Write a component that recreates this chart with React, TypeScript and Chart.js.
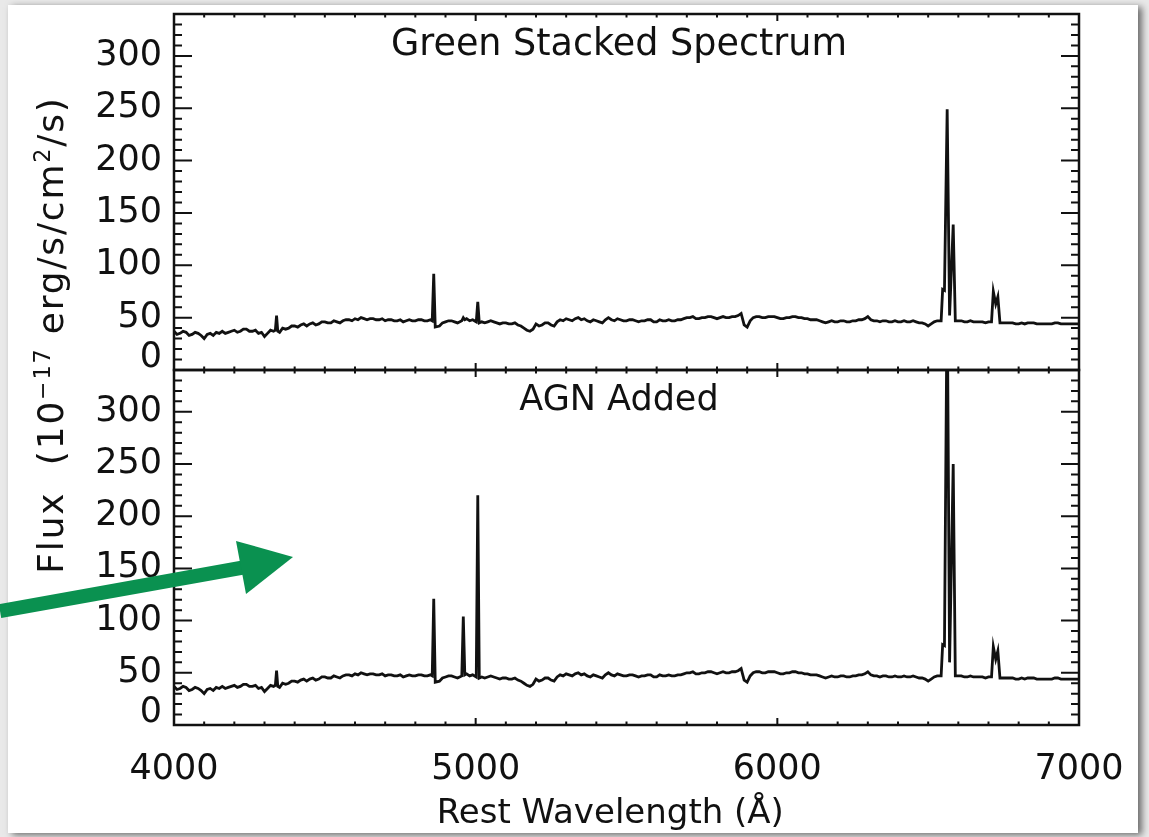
import React, { useEffect, useRef } from 'react';
import { Chart, registerables } from 'chart.js';

Chart.register(...registerables);

// Continuum sampling grid (Å), 10 Å steps
const wavelengthGrid = [
  4000, 4010, 4020, 4030, 4040, 4050, 4060, 4070, 4080, 4090,
  4100, 4110, 4120, 4130, 4140, 4150, 4160, 4170, 4180, 4190,
  4200, 4210, 4220, 4230, 4240, 4250, 4260, 4270, 4280, 4290,
  4300, 4310, 4320, 4330, 4340, 4350, 4360, 4370, 4380, 4390,
  4400, 4410, 4420, 4430, 4440, 4450, 4460, 4470, 4480, 4490,
  4500, 4510, 4520, 4530, 4540, 4550, 4560, 4570, 4580, 4590,
  4600, 4610, 4620, 4630, 4640, 4650, 4660, 4670, 4680, 4690,
  4700, 4710, 4720, 4730, 4740, 4750, 4760, 4770, 4780, 4790,
  4800, 4810, 4820, 4830, 4840, 4850, 4860, 4870, 4880, 4890,
  4900, 4910, 4920, 4930, 4940, 4950, 4960, 4970, 4980, 4990,
  5000, 5010, 5020, 5030, 5040, 5050, 5060, 5070, 5080, 5090,
  5100, 5110, 5120, 5130, 5140, 5150, 5160, 5170, 5180, 5190,
  5200, 5210, 5220, 5230, 5240, 5250, 5260, 5270, 5280, 5290,
  5300, 5310, 5320, 5330, 5340, 5350, 5360, 5370, 5380, 5390,
  5400, 5410, 5420, 5430, 5440, 5450, 5460, 5470, 5480, 5490,
  5500, 5510, 5520, 5530, 5540, 5550, 5560, 5570, 5580, 5590,
  5600, 5610, 5620, 5630, 5640, 5650, 5660, 5670, 5680, 5690,
  5700, 5710, 5720, 5730, 5740, 5750, 5760, 5770, 5780, 5790,
  5800, 5810, 5820, 5830, 5840, 5850, 5860, 5870, 5880, 5890,
  5900, 5910, 5920, 5930, 5940, 5950, 5960, 5970, 5980, 5990,
  6000, 6010, 6020, 6030, 6040, 6050, 6060, 6070, 6080, 6090,
  6100, 6110, 6120, 6130, 6140, 6150, 6160, 6170, 6180, 6190,
  6200, 6210, 6220, 6230, 6240, 6250, 6260, 6270, 6280, 6290,
  6300, 6310, 6320, 6330, 6340, 6350, 6360, 6370, 6380, 6390,
  6400, 6410, 6420, 6430, 6440, 6450, 6460, 6470, 6480, 6490,
  6500, 6510, 6520, 6530, 6540, 6550, 6560, 6570, 6580, 6590,
  6600, 6610, 6620, 6630, 6640, 6650, 6660, 6670, 6680, 6690,
  6700, 6710, 6720, 6730, 6740, 6750, 6760, 6770, 6780, 6790,
  6800, 6810, 6820, 6830, 6840, 6850, 6860, 6870, 6880, 6890,
  6900, 6910, 6920, 6930, 6940, 6950, 6960, 6970, 6980, 6990,
  7000,
];

// Stacked continuum flux (10^-17 erg/s/cm^2/Å) on the grid above
const continuumFlux = [
  37, 34, 35, 37, 36, 33, 34, 36, 35, 33,
  30, 34, 35, 33, 36, 35, 37, 35, 36, 37,
  38, 36, 37, 39, 39, 37, 37, 38, 35, 36,
  32, 35, 38, 37, 38, 36, 40, 39, 40, 42,
  42, 41, 43, 44, 42, 44, 45, 43, 44, 46,
  46, 45, 45, 47, 46, 45, 47, 48, 48, 47,
  49, 48, 50, 49, 48, 49, 49, 48, 48, 49,
  47, 48, 48, 47, 47, 48, 46, 47, 48, 47,
  47, 48, 48, 47, 47, 48, 47, 43, 42, 45,
  46, 47, 47, 46, 45, 47, 50, 49, 47, 48,
  46, 47, 46, 45, 46, 47, 46, 45, 44, 45,
  45, 44, 44, 45, 43, 42, 40, 38, 37, 39,
  44, 42, 43, 45, 45, 43, 42, 46, 48, 47,
  49, 48, 47, 49, 50, 48, 49, 47, 46, 48,
  47, 46, 45, 48, 50, 48, 47, 49, 48, 47,
  47, 48, 48, 47, 46, 47, 47, 48, 48, 46,
  46, 48, 47, 47, 48, 47, 47, 48, 48, 49,
  50, 50, 51, 49, 49, 50, 50, 51, 51, 50,
  49, 50, 51, 50, 50, 51, 51, 52, 54, 43,
  41, 47, 50, 51, 51, 50, 50, 51, 51, 51,
  50, 49, 49, 50, 50, 51, 51, 50, 50, 49,
  49, 48, 48, 48, 47, 46, 45, 46, 47, 46,
  46, 47, 47, 46, 46, 47, 47, 48, 48, 49,
  51, 48, 47, 47, 46, 47, 47, 46, 46, 47,
  46, 46, 47, 46, 46, 47, 46, 45, 45, 44,
  42, 44, 46, 47, 47, 47, 47, 47, 47, 48,
  47, 47, 46, 46, 47, 46, 46, 46, 46, 45,
  46, 46, 45, 45, 45, 45, 45, 45, 45, 44,
  44, 45, 44, 45, 45, 45, 44, 44, 44, 44,
  44, 44, 45, 45, 44, 44, 44, 44, 44, 44,
  44,
];

// Emission-line regions (Hγ, Hβ, [OIII]4959, [OIII]5007, [NII]+Hα, [SII])
const lineWavelengths = [
  4336, 4340, 4344,
  4856, 4861, 4866,
  4954, 4959, 4964,
  5002, 5007, 5012,
  6543, 6548, 6554, 6563, 6571, 6583, 6590,
  6710, 6716, 6724, 6731, 6738,
];
const greenLineFlux = [
  38, 52, 37,
  47, 92, 41,
  47, 50, 48,
  46, 65, 45,
  47, 77, 76, 249, 52, 139, 47,
  46, 75, 63, 70, 45,
];
const agnLineFlux = [
  38, 52, 37,
  47, 121, 41,
  47, 104, 48,
  46, 220, 45,
  47, 77, 76, 420, 60, 250, 47,
  46, 75, 63, 71, 45,
];

const xTickValues = [4000, 5000, 6000, 7000];
const yTickValues = [0, 50, 100, 150, 200, 250, 300];
const X_MIN = 4000;
const X_MAX = 7000;
const Y_MIN = 0;
const Y_MAX = 340;

const FONT = '"DejaVu Sans", "Noto Sans", sans-serif';
const INK = '#111111';

function buildSpectrum(lineFlux: number[]) {
  const pts: { x: number; y: number }[] = [];
  wavelengthGrid.forEach((w, i) => {
    if (lineWavelengths.some((l) => Math.abs(l - w) < 6)) return;
    pts.push({ x: w, y: continuumFlux[i] });
  });
  lineWavelengths.forEach((w, i) => pts.push({ x: w, y: lineFlux[i] }));
  pts.sort((a, b) => a.x - b.x);
  return pts;
}

const idlFrame = {
  id: 'idlFrame',
  afterDraw(chart: any, _args: any, opts: any) {
    const { ctx, chartArea: a } = chart;
    const xs = chart.scales.x;
    const ys = chart.scales.y;
    ctx.save();
    ctx.strokeStyle = INK;
    ctx.lineWidth = 2;
    ctx.beginPath();
    for (let v = Y_MIN + 10; v < Y_MAX; v += 10) {
      const py = ys.getPixelForValue(v);
      const len = v % 50 === 0 ? 18 : 8;
      ctx.moveTo(a.left, py);
      ctx.lineTo(a.left + len, py);
      ctx.moveTo(a.right, py);
      ctx.lineTo(a.right - len, py);
    }
    for (let v = X_MIN + 100; v < X_MAX; v += 100) {
      const px = xs.getPixelForValue(v);
      const len = v % 1000 === 0 ? 7 : 3.5;
      ctx.moveTo(px, a.top);
      ctx.lineTo(px, a.top + len);
      ctx.moveTo(px, a.bottom);
      ctx.lineTo(px, a.bottom - len);
    }
    ctx.stroke();
    ctx.lineWidth = 2.5;
    ctx.strokeRect(a.left, a.top, a.right - a.left, a.bottom - a.top);
    ctx.fillStyle = INK;
    ctx.font = `${opts.titleSize}px ${FONT}`;
    ctx.textAlign = 'center';
    ctx.textBaseline = 'middle';
    ctx.fillText(opts.title, xs.getPixelForValue(opts.titleX), ys.getPixelForValue(opts.titleY));
    ctx.restore();
  },
};

function yScale() {
  return {
    type: 'linear',
    min: Y_MIN,
    max: Y_MAX,
    afterBuildTicks: (s: any) => {
      s.ticks = yTickValues.map((v) => ({ value: v }));
    },
    afterFit: (s: any) => {
      s.width = 100;
    },
    ticks: {
      padding: 12,
      color: INK,
      font: { family: FONT, size: 35, lineHeight: 0.7 },
      callback: (v: number) => (v === 0 ? ['0', ''] : String(v)),
    },
    grid: { display: false, drawTicks: false },
    border: { display: false },
  };
}

function makeConfig(data: any[], title: string, titleSize: number, showX: boolean): any {
  return {
    type: 'line',
    data: {
      datasets: [
        {
          data,
          borderColor: INK,
          borderWidth: 2.8,
          borderJoinStyle: 'miter',
          pointRadius: 0,
          tension: 0,
          fill: false,
          clip: 1,
        },
      ],
    },
    options: {
      responsive: false,
      animation: false,
      events: [],
      layout: { padding: { left: 74, right: 70, top: 40, bottom: showX ? 0 : 40 } },
      plugins: {
        legend: { display: false },
        tooltip: { enabled: false },
        idlFrame: { title, titleSize, titleX: 5475, titleY: 310 },
      },
      scales: {
        x: showX
          ? {
              type: 'linear',
              min: X_MIN,
              max: X_MAX,
              afterBuildTicks: (s: any) => {
                s.ticks = xTickValues.map((v) => ({ value: v }));
              },
              afterFit: (s: any) => {
                s.height = 110;
              },
              ticks: {
                padding: 24,
                color: INK,
                maxRotation: 0,
                autoSkip: false,
                font: { family: FONT, size: 35, lineHeight: 1.2 },
                callback: (v: number) => String(v),
              },
              grid: { display: false, drawTicks: false },
              border: { display: false },
              title: {
                display: true,
                text: 'Rest Wavelength (Å)   ',
                color: INK,
                font: { family: FONT, size: 34, lineHeight: 1.2 },
                padding: { top: 0, bottom: 0 },
              },
            }
          : {
              type: 'linear',
              display: false,
              min: X_MIN,
              max: X_MAX,
              grid: { display: false, drawTicks: false },
            },
        y: yScale(),
      },
    },
    plugins: [idlFrame],
  };
}

export default function App() {
  const topRef = useRef<HTMLCanvasElement>(null);
  const botRef = useRef<HTMLCanvasElement>(null);

  useEffect(() => {
    const top = new Chart(
      topRef.current as HTMLCanvasElement,
      makeConfig(buildSpectrum(greenLineFlux), 'Green Stacked Spectrum', 36.5, false)
    );
    const bot = new Chart(
      botRef.current as HTMLCanvasElement,
      makeConfig(buildSpectrum(agnLineFlux), 'AGN Added', 35, true)
    );
    return () => {
      top.destroy();
      bot.destroy();
    };
  }, []);

  return (
    <div
      style={{
        position: 'fixed',
        left: 0,
        top: 0,
        width: 1149,
        height: 837,
        background: '#e9e9e9',
        overflow: 'hidden',
      }}
    >
      <div
        style={{
          position: 'absolute',
          left: 8,
          top: 5,
          width: 1130,
          height: 828,
          background: '#ffffff',
          boxShadow: '4px 2px 7px rgba(0,0,0,0.55)',
        }}
      />
      <canvas
        ref={topRef}
        width={1149}
        height={436}
        style={{ position: 'absolute', left: 0, top: -26, width: 1149, height: 436, display: 'block' }}
      />
      <canvas
        ref={botRef}
        width={1149}
        height={505}
        style={{ position: 'absolute', left: 0, top: 330, width: 1149, height: 505, display: 'block' }}
      />
      <div
        style={{
          position: 'absolute',
          left: 50,
          top: 335,
          transform: 'translate(-50%, -50%) rotate(-90deg)',
          whiteSpace: 'nowrap',
          fontFamily: FONT,
          fontSize: 36,
          letterSpacing: '1.8px',
          color: INK,
          lineHeight: 1,
        }}
      >
        Flux&nbsp;&nbsp;(10<sup style={{ fontSize: '0.62em' }}>−17</sup> erg/s/cm<sup style={{ fontSize: '0.62em' }}>2</sup>/s)
      </div>
      <svg
        width={1149}
        height={837}
        style={{ position: 'absolute', left: 0, top: 0, pointerEvents: 'none' }}
      >
        <line x1={0} y1={611} x2={246} y2={567} stroke="#0a9150" strokeWidth={14} />
        <polygon points="293,557 236,541 246,594" fill="#0a9150" />
      </svg>
    </div>
  );
}
